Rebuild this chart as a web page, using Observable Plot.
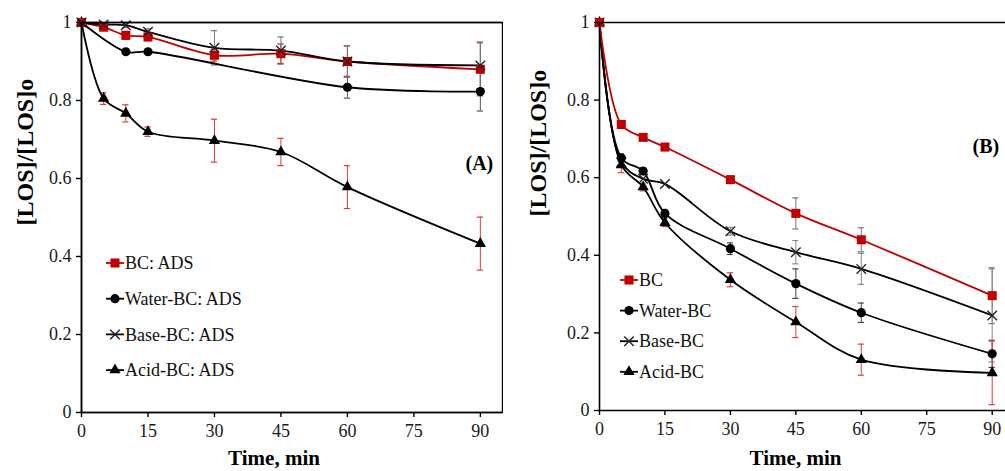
<!DOCTYPE html>
<html><head><meta charset="utf-8">
<script src="https://cdn.jsdelivr.net/npm/d3@7"></script>
<script src="https://cdn.jsdelivr.net/npm/@observablehq/plot@0.6"></script>
<style>
body{margin:0;background:#fff;}
#wrap{display:flex;width:1005px;height:471px;overflow:hidden;}
#wrap svg{display:block;flex:none;}
</style></head><body><div id="wrap"></div>
<script>
// ---------- data ----------
const times = [0, 5, 10, 15, 30, 45, 60, 90];
const xTicks = [0, 15, 30, 45, 60, 75, 90];
const yTicks = [0, 0.2, 0.4, 0.6, 0.8, 1];
const xLabel = "Time, min";
const yLabel = "[LOS]/[LOS]o";

// Panel (A)
const namesA = ["BC: ADS", "Water-BC: ADS", "Base-BC: ADS", "Acid-BC: ADS"];
const bcA      = [1, 0.988, 0.967, 0.963, 0.916, 0.920, 0.900, 0.880];
const bcAErr   = [0, 0.008, 0.010, 0.010, 0.015, 0.025, 0.040, 0.068];
const waterA   = [1, null, 0.925, 0.925, null, null, 0.834, 0.823];
const waterAErr= [0, null, 0, 0.005, null, null, 0.028, 0.050];
const baseA    = [1, 0.995, 0.993, 0.976, 0.935, 0.928, 0.900, 0.890];
const baseAErr = [0, 0.004, 0.006, 0.008, 0.044, 0.035, 0.040, 0.060];
const acidA    = [1, 0.805, 0.767, 0.720, 0.697, 0.668, 0.578, 0.433];
const acidAErr = [0, 0.015, 0.022, 0.012, 0.055, 0.035, 0.055, 0.068];

// Panel (B)
const namesB = ["BC", "Water-BC", "Base-BC", "Acid-BC"];
const bcB      = [1, 0.737, 0.704, 0.679, 0.595, 0.508, 0.440, 0.296];
const bcBErr   = [0, 0, 0, 0, 0.005, 0.040, 0.031, 0.072];
const waterB   = [1, 0.651, 0.617, 0.508, 0.417, 0.327, 0.252, 0.146];
const waterBErr= [0, 0.010, 0.008, 0.010, 0.015, 0.038, 0.025, 0.035];
const baseB    = [1, 0.640, 0.597, 0.584, 0.462, 0.408, 0.365, 0.245];
const baseBErr = [0, 0, 0, 0, 0.010, 0.030, 0.040, 0.120];
const acidB    = [1, 0.633, 0.576, 0.484, 0.337, 0.228, 0.131, 0.097];
const acidBErr = [0, 0.020, 0.010, 0.010, 0.018, 0.040, 0.040, 0.082];

// ---------- styles ----------
const FONT = "'Liberation Serif','Times New Roman',serif";
const RED = "#c00000";
const seriesStyle = [
  {color: RED, sym: "square", r: 5.1},
  {color: "#000", sym: "circle", r: 4.6},
  {color: "#000", sym: "times", r: 4.4},
  {color: "#000", sym: "triangle", r: 4.2}
];
const d3sym = {square: d3.symbolSquare, circle: d3.symbolCircle, times: d3.symbolTimes || d3.symbolX, triangle: d3.symbolTriangle};

function rows(vals, errs, k) {
  return times.map((t, i) => ({t, v: vals[i], e: errs[i], k})).filter(d => d.v != null);
}

function legendMark(names, x0, y0, gap) {
  return () => {
    const g = d3.create("svg:g");
    names.forEach((name, i) => {
      const s = seriesStyle[i];
      const y = y0 + i * gap;
      g.append("line").attr("x1", x0 - 9).attr("x2", x0 + 9).attr("y1", y).attr("y2", y)
        .attr("stroke", s.color).attr("stroke-width", 1.8);
      const p = g.append("path").attr("transform", `translate(${x0},${y})`)
        .attr("d", d3.symbol(d3sym[s.sym], Math.PI * s.r * s.r)());
      if (s.sym === "times") p.attr("fill", "none").attr("stroke", "#222").attr("stroke-width", 1.4);
      else p.attr("fill", s.color);
      g.append("text").attr("x", x0 + 10).attr("y", y).attr("dy", "0.34em")
        .attr("text-anchor", "start")
        .attr("font-family", FONT).attr("font-size", 18).attr("fill", "#111").text(name);
    });
    return g.node();
  };
}

function panel(o) {
  const data = o.series.map((s, k) => rows(s.v, s.e, k));
  const marks = [];
  // error bars
  data.forEach((d, k) => {
    const ed = d.filter(r => r.e > 0);
    const c = o.errColors[k];
    marks.push(Plot.ruleX(ed, {x: "t", y1: r => r.v - r.e, y2: r => r.v + r.e, stroke: c, strokeWidth: 1}));
    marks.push(Plot.ruleY(ed, {y: r => r.v + r.e, x1: r => r.t - 0.7, x2: r => r.t + 0.7, stroke: c, strokeWidth: 1.2}));
    marks.push(Plot.ruleY(ed, {y: r => r.v - r.e, x1: r => r.t - 0.7, x2: r => r.t + 0.7, stroke: c, strokeWidth: 1.2}));
  });
  // lines
  o.lineOrder.forEach(k => {
    marks.push(Plot.line(data[k], {x: "t", y: "v", curve: "catmull-rom", stroke: seriesStyle[k].color, strokeWidth: 1.8}));
  });
  // markers
  o.lineOrder.forEach(k => {
    const s = seriesStyle[k];
    if (s.sym === "times")
      marks.push(Plot.dot(data[k], {x: "t", y: "v", symbol: "times", r: s.r, stroke: "#222", strokeWidth: 1.4, fill: "none"}));
    else
      marks.push(Plot.dot(data[k], {x: "t", y: "v", symbol: s.sym, r: s.r, fill: s.color, stroke: "none"}));
  });
  // axes
  marks.push(Plot.axisX(xTicks, {tickSize: 5, tickPadding: 7, tickFormat: d => String(d), fontSize: 18, fontFamily: FONT, fill: "#1a1a1a", stroke: "#000", strokeWidth: 1.4, label: null}));
  marks.push(Plot.axisY(yTicks, {tickSize: 5, tickPadding: 5, tickFormat: d => String(d), fontSize: 18, fontFamily: FONT, fill: "#1a1a1a", stroke: "#000", strokeWidth: 1.4, label: null}));
  marks.push(Plot.ruleY([0], {stroke: "#000", strokeWidth: 1.6}));
  marks.push(Plot.ruleX([0], {stroke: "#000", strokeWidth: 1.6}));
  marks.push(Plot.ruleY([1], {stroke: "#000", strokeWidth: 1.4}));
  if (o.frame) marks.push(Plot.frame({stroke: "#000", strokeWidth: 1.4}));
  // texts
  marks.push(Plot.text([yLabel], {text: d => d, frameAnchor: "left", dx: o.yLab[0], dy: o.yLab[1], rotate: -90, fontSize: 24, fontWeight: "bold", fontFamily: FONT, fill: "#000"}));
  marks.push(Plot.text([xLabel], {text: d => d, frameAnchor: "bottom", dx: o.xLab[0], dy: o.xLab[1], fontSize: 21, fontWeight: "bold", fontFamily: FONT, fill: "#000"}));
  marks.push(Plot.text([o.tag], {text: d => d, frameAnchor: "top-left", dx: o.tagPos[0], dy: o.tagPos[1], fontSize: 20, fontWeight: "bold", fontFamily: FONT, fill: "#000"}));
  marks.push(legendMark(o.names, o.legend[0], o.legend[1], o.legend[2]));

  return Plot.plot({
    width: o.width, height: 471,
    marginLeft: o.ml, marginRight: o.mr, marginTop: 22, marginBottom: o.mb,
    style: {fontFamily: FONT, background: "#fff", overflow: "visible"},
    x: {domain: [0, o.xMax], axis: null},
    y: {domain: [0, 1], axis: null},
    marks
  });
}

const wrap = document.getElementById("wrap");
wrap.appendChild(panel({
  width: 503, ml: 81, mr: 1, mb: 59, xMax: 95, frame: true,
  series: [{v: bcA, e: bcAErr}, {v: waterA, e: waterAErr}, {v: baseA, e: baseAErr}, {v: acidA, e: acidAErr}],
  errColors: ["#d02020", "#555", "#777", "#e03a3a"],
  lineOrder: [1, 3, 0, 2],
  names: namesA, tag: "(A)",
  yLab: [-56, 8], xLab: [-18, 52], tagPos: [384, 133],
  legend: [115, 263, 35.7]
}));
wrap.appendChild(panel({
  width: 502, ml: 96, mr: 0, mb: 61, xMax: 93.05, frame: false,
  series: [{v: bcB, e: bcBErr}, {v: waterB, e: waterBErr}, {v: baseB, e: baseBErr}, {v: acidB, e: acidBErr}],
  errColors: ["#777", "#444", "#888", "#e03a3a"],
  lineOrder: [2, 1, 3, 0],
  names: namesB, tag: "(B)",
  yLab: [-61, 0], xLab: [-7, 54], tagPos: [373, 116],
  legend: [126, 280, 30.6]
}));
</script></body></html>
